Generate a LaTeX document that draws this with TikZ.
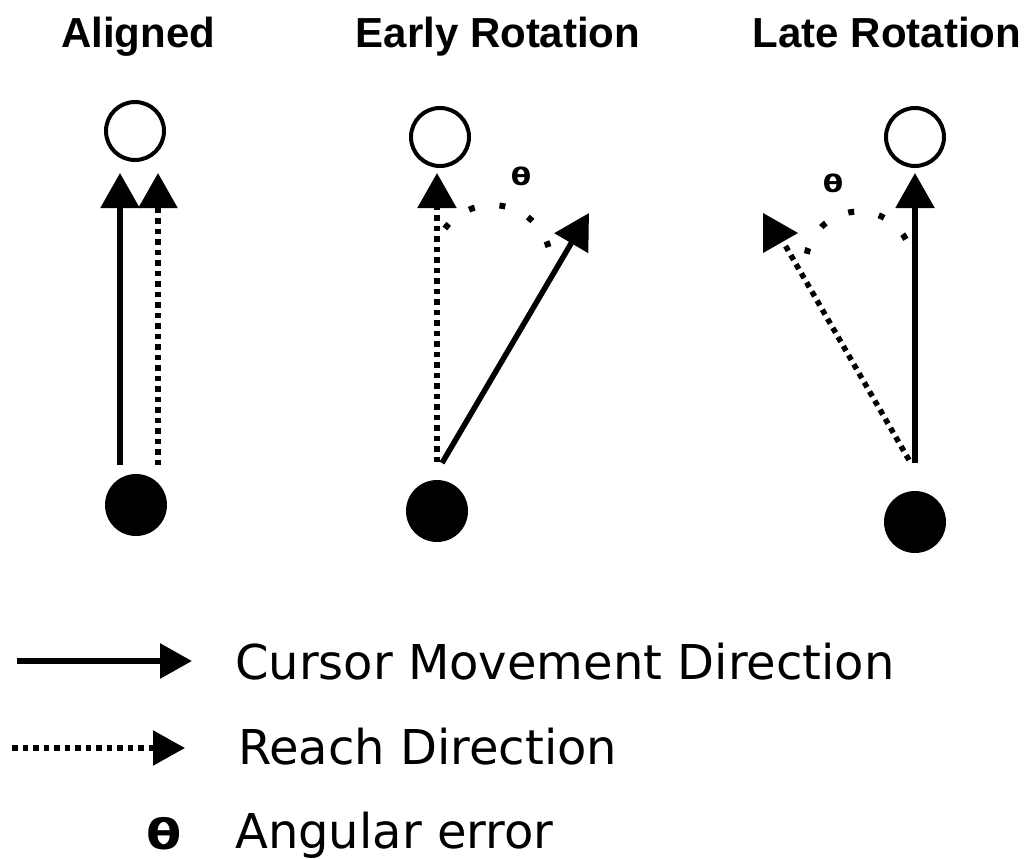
\documentclass[tikz,border=0pt]{standalone}
\usepackage{fontspec}
\setmainfont{Liberation Sans}
\newfontfamily\legendfont{DejaVu Sans}
\usetikzlibrary{arrows.meta}
\newcommand{\wtheta}{\scalebox{1.35}[1.1]{θ}}
\tikzset{
  cursor/.style={line width=5.5pt, -{Triangle[length=35pt,width=38pt]}},
  reach/.style={line width=5.5pt, dash pattern=on 5.5pt off 5pt, -{Triangle[length=35pt,width=38pt]}},
  keyhead/.style={-{Triangle[length=32pt,width=34pt]}},
  angarc/.style={line width=6pt, dash pattern=on 6pt off 25pt},
  target/.style={circle, draw, line width=4pt, minimum size=58pt, inner sep=0pt},
  start/.style={circle, fill, minimum size=62pt, inner sep=0pt},
  head/.style={font=\fontsize{42}{50}\selectfont\bfseries, anchor=base, inner sep=0pt},
  theta/.style={font=\legendfont\fontsize{22}{28}\selectfont\bfseries, inner sep=0pt},
  keytext/.style={font=\legendfont\fontsize{48}{56}\selectfont, anchor=base west, inner sep=0pt},
}
\begin{document}
\begin{tikzpicture}[x=1pt, y=-1pt]
  \useasboundingbox (0,0) rectangle (1026,859);

  % panel titles
  \node[head] (t-aligned) at (138,48) {Aligned};
  \node[head] (t-early) at (498,48) {Early Rotation};
  \node[head] (t-late) at (887,48) {Late Rotation};

  % aligned: both directions point at the target
  \node[target] (a-target) at (135,131) {};
  \node[start] (a-start) at (136,505) {};
  \coordinate (a-cur0) at (120,465);
  \coordinate (a-cur1) at (120,173);
  \coordinate (a-rch0) at (158,465);
  \coordinate (a-rch1) at (158,173);
  \draw[cursor] (a-cur0) -- (a-cur1);
  \draw[reach] (a-rch0) -- (a-rch1);

  % early rotation: cursor turned away from the reach
  \node[target] (e-target) at (440,137) {};
  \node[start] (e-start) at (437,511) {};
  \coordinate (e-rch0) at (437,462);
  \coordinate (e-rch1) at (437,173);
  \coordinate (e-cur0) at (442,463);
  \coordinate (e-cur1) at (589,213);
  \draw[reach] (e-rch0) -- (e-rch1);
  \draw[cursor] (e-cur0) -- (e-cur1);
  \coordinate (e-arc) at (492,264);
  \draw[angarc] (e-arc) ++(-143:59) arc[start angle=-143, end angle=-16, radius=59];
  \node[theta] (e-theta) at (521,176) {\wtheta};

  % late rotation: reach turned away from the cursor
  \node[target] (l-target) at (915,137) {};
  \node[start] (l-start) at (915,522) {};
  \coordinate (l-cur0) at (915,463);
  \coordinate (l-cur1) at (915,173);
  \coordinate (l-rch0) at (909,460);
  \coordinate (l-rch1) at (785,245);
  \coordinate (l-head) at (763,213);
  \draw[cursor] (l-cur0) -- (l-cur1);
  \draw[line width=5.5pt, dash pattern=on 5.5pt off 5pt] (l-rch0) -- (l-rch1);
  \fill (l-head) -- ++(0,40) -- ++(35,-20) -- cycle;
  \coordinate (l-arc) at (859,265);
  \draw[angarc] (l-arc) ++(-168:53.5) arc[start angle=-168, end angle=-28, radius=53.5];
  \node[theta] (l-theta) at (833,183) {\wtheta};

  % legend
  \coordinate (k-cur0) at (17,661);
  \coordinate (k-cur1) at (192,661);
  \coordinate (k-rch0) at (12,748);
  \coordinate (k-rch1) at (185,748);
  \draw[line width=6pt, keyhead] (k-cur0) -- (k-cur1);
  \draw[line width=5.5pt, dash pattern=on 5.5pt off 5pt, keyhead] (k-rch0) -- (k-rch1);
  \node[keytext] (k-cur) at (235,679) {Cursor Movement Direction};
  \node[keytext] (k-rch) at (238,764) {Reach Direction};
  \node[theta, font=\legendfont\fontsize{38}{46}\selectfont\bfseries, anchor=base] (k-theta) at (164,849) {\wtheta};
  \node[keytext] (k-ang) at (235,848) {Angular error};
\end{tikzpicture}
\end{document}
